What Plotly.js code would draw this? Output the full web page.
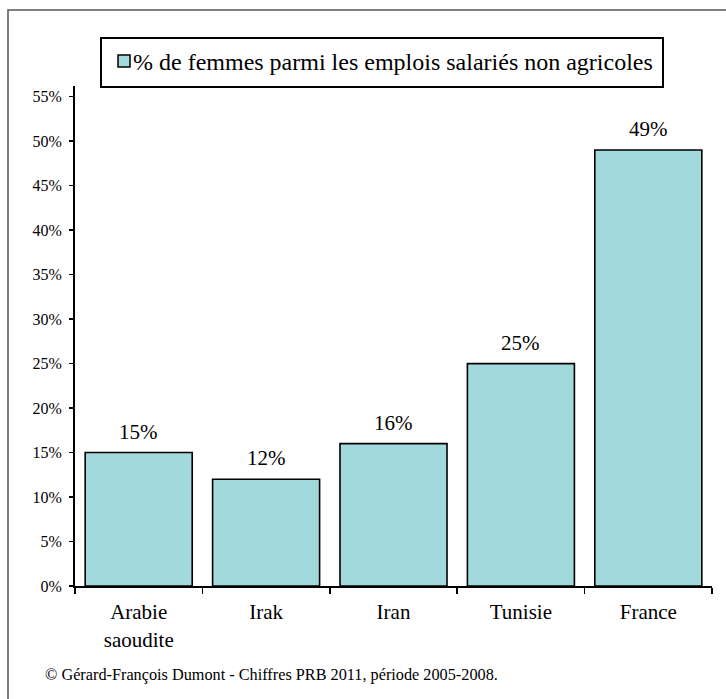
<!DOCTYPE html>
<html>
<head>
<meta charset="utf-8">
<script src="https://cdn.plot.ly/plotly-3.0.1.min.js"></script>
<style>html,body{margin:0;padding:0;background:#fff;}#chart{width:726px;height:699px;}</style>
</head>
<body>
<div id="chart"></div>
<script>
const categories = ["Arabie<br>saoudite", "Irak", "Iran", "Tunisie", "France"];
const values = [0.15, 0.12, 0.16, 0.25, 0.49];
const valueLabels = ["15%", "12%", "16%", "25%", "49%"];
const tickValues = [0, 0.05, 0.10, 0.15, 0.20, 0.25, 0.30, 0.35, 0.40, 0.45, 0.50, 0.55];
const tickLabels = ["0%", "5%", "10%", "15%", "20%", "25%", "30%", "35%", "40%", "45%", "50%", "55%"];
const seriesName = "% de femmes parmi les emplois salariés non agricoles";
const footer = "© Gérard-François Dumont - Chiffres PRB 2011, période 2005-2008.";

const FONT = "Liberation Serif";
const BAR_COLOR = "#a2d9dd";

// pixel -> paper helpers (plot area: x 75..712, y 86..586)
const px = p => (p - 75) / 637;
const py = p => (586 - p) / 500;

const trace = {
  type: "bar",
  x: categories,
  y: values,
  name: seriesName,
  showlegend: false,
  marker: {color: BAR_COLOR, line: {color: "#000", width: 1.6}},
  hoverinfo: "none"
};

const annotations = categories.map((c, i) => ({
  x: c, y: values[i], xref: "x", yref: "y",
  text: valueLabels[i], showarrow: false,
  yanchor: "bottom", yshift: 7,
  font: {family: FONT, size: 21, color: "#000"}
}));
annotations.push({
  xref: "paper", yref: "paper", x: px(43), y: py(675),
  xanchor: "left", yanchor: "middle", showarrow: false,
  text: footer, font: {family: FONT, size: 16.25, color: "#000"}
});
// legend text
annotations.push({
  xref: "paper", yref: "paper", x: px(131), y: py(62),
  xanchor: "left", yanchor: "middle", showarrow: false,
  text: seriesName, font: {family: FONT, size: 24, color: "#000"}
});

const layout = {
  width: 726, height: 699,
  margin: {l: 75, r: 14, t: 86, b: 113, pad: 0},
  paper_bgcolor: "#fff", plot_bgcolor: "#fff",
  font: {family: FONT, color: "#000"},
  bargap: 0.16,
  xaxis: {
    type: "category",
    showline: true, linecolor: "#000", linewidth: 2,
    ticks: "outside", ticklen: 6, tickwidth: 1.5, tickcolor: "#000",
    tickson: "boundaries",
    ticklabelstandoff: 6,
    showgrid: false, zeroline: false,
    tickfont: {family: FONT, size: 21, color: "#000"},
    fixedrange: true
  },
  yaxis: {
    range: [0, 0.562],
    tickvals: tickValues, ticktext: tickLabels,
    showline: true, linecolor: "#000", linewidth: 2,
    ticks: "outside", ticklen: 4, tickwidth: 1.5, tickcolor: "#000",
    ticklabelstandoff: 4,
    showgrid: false, zeroline: false,
    tickfont: {family: FONT, size: 16, color: "#000"},
    fixedrange: true
  },
  showlegend: false,
  annotations: annotations,
  shapes: [
    {
      type: "rect", xref: "paper", yref: "paper",
      x0: px(8), x1: px(760), y0: py(740), y1: py(10),
      line: {color: "#555", width: 1.5}, fillcolor: "rgba(0,0,0,0)", layer: "below"
    },
    {
      type: "rect", xref: "paper", yref: "paper",
      x0: px(101), x1: px(663), y0: py(87), y1: py(38),
      line: {color: "#000", width: 2}, fillcolor: "#fff", layer: "above"
    },
    {
      type: "rect", xref: "paper", yref: "paper",
      x0: px(118), x1: px(130), y0: py(67), y1: py(55),
      line: {color: "#000", width: 1.5}, fillcolor: BAR_COLOR, layer: "above"
    }
  ]
};

Plotly.newPlot("chart", [trace], layout, {displayModeBar: false, staticPlot: true});
</script>
</body>
</html>
